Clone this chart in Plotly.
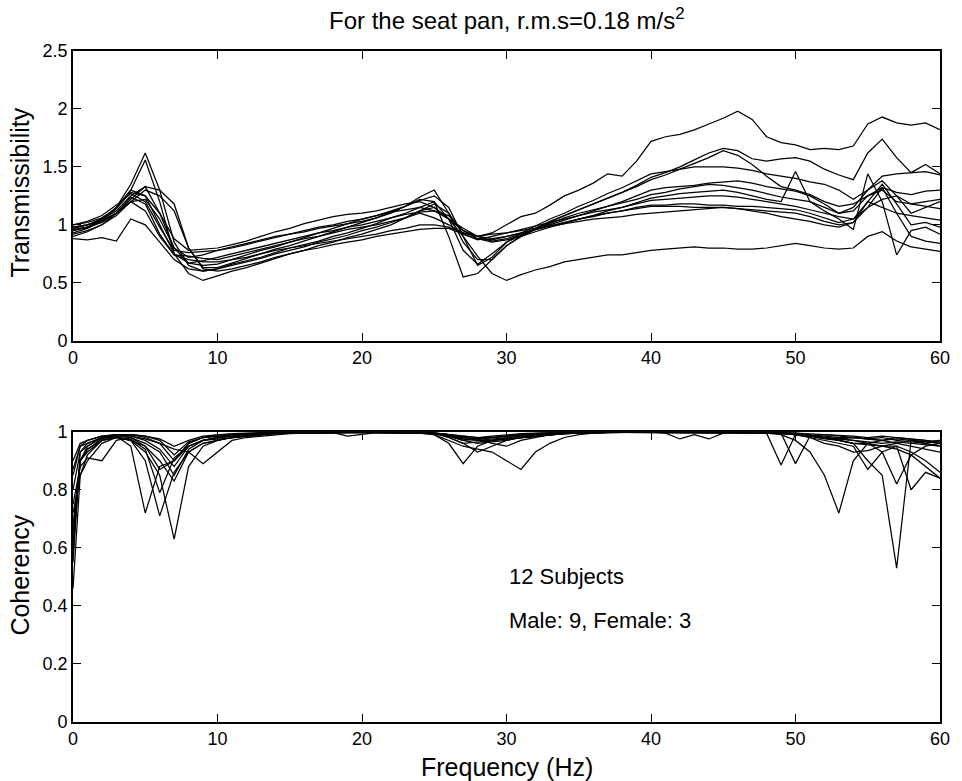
import plotly.graph_objects as go

freq = list(range(0, 61))
coh_freq = [0, 0.5] + list(range(1, 61))

# Transmissibility (seat pan), 12 subjects
T1 = [0.97, 1.0, 1.05, 1.15, 1.35, 1.62, 1.3, 0.85, 0.65, 0.6,
      0.62, 0.66, 0.69, 0.72, 0.76, 0.8, 0.83, 0.86, 0.9, 0.93,
      0.97, 1.01, 1.06, 1.1, 1.15, 1.2, 1.05, 0.78, 0.66, 0.75,
      0.85, 0.91, 0.97, 1.03, 1.08, 1.13, 1.18, 1.23, 1.28, 1.34,
      1.41, 1.45, 1.5, 1.56, 1.62, 1.66, 1.64, 1.57, 1.55, 1.57,
      1.58, 1.55, 1.48, 1.43, 1.39, 1.62, 1.74, 1.58, 1.45, 1.52,
      1.44]
T2 = [1.0, 1.02, 1.06, 1.14, 1.28, 1.25, 1.1, 0.88, 0.78, 0.79,
      0.8, 0.83, 0.86, 0.9, 0.94, 0.97, 1.01, 1.04, 1.07, 1.09,
      1.1, 1.12, 1.15, 1.18, 1.2, 1.15, 1.05, 0.95, 0.9, 0.93,
      1.0, 1.07, 1.1, 1.17, 1.25, 1.3, 1.36, 1.44, 1.42, 1.55,
      1.72, 1.76, 1.78, 1.82, 1.87, 1.92, 1.98, 1.91, 1.76, 1.71,
      1.69, 1.65, 1.66, 1.65, 1.68, 1.87, 1.93, 1.88, 1.86, 1.88,
      1.82]
T3 = [0.95, 0.98, 1.04, 1.14, 1.3, 1.56, 1.2, 0.75, 0.58, 0.52,
      0.56, 0.6, 0.63, 0.67, 0.71, 0.75, 0.78, 0.82, 0.85, 0.89,
      0.92, 0.96, 1.0, 1.06, 1.12, 1.18, 1.1, 0.85, 0.7, 0.7,
      0.82, 0.9, 0.96, 1.02, 1.08, 1.13, 1.18, 1.23, 1.28, 1.33,
      1.39, 1.43, 1.48, 1.53, 1.58, 1.64, 1.6, 1.52, 1.42, 1.33,
      1.3, 1.26, 1.2, 1.16, 1.18, 1.25, 1.32, 1.28, 1.26, 1.29,
      1.3]
T4 = [0.98, 1.0, 1.05, 1.12, 1.25, 1.33, 1.3, 1.18, 0.8, 0.63,
      0.63, 0.67, 0.71, 0.75, 0.79, 0.82, 0.86, 0.9, 0.94, 0.98,
      1.02, 1.06, 1.11, 1.16, 1.21, 1.25, 1.15, 0.9, 0.65, 0.72,
      0.85, 0.93, 0.99, 1.05, 1.1, 1.16, 1.21, 1.27, 1.32, 1.38,
      1.44, 1.46, 1.48, 1.5, 1.5, 1.5, 1.49, 1.47, 1.44, 1.42,
      1.4, 1.37, 1.35, 1.3, 1.22, 1.3, 1.42, 1.44, 1.45, 1.46,
      1.43]
T5 = [0.93, 0.97, 1.03, 1.1, 1.22, 1.33, 1.1, 0.8, 0.72, 0.74,
      0.78, 0.8, 0.83, 0.86, 0.89, 0.92, 0.95, 0.98, 1.0, 1.03,
      1.05, 1.08, 1.11, 1.13, 1.15, 1.12, 1.05, 0.97, 0.9, 0.86,
      0.88, 0.92, 0.96, 1.0, 1.04, 1.08, 1.12, 1.16, 1.2, 1.25,
      1.3, 1.32, 1.33, 1.34, 1.36, 1.37, 1.38, 1.36, 1.33, 1.31,
      1.29, 1.25, 1.18, 1.1, 1.12, 1.25, 1.3, 1.2, 1.18, 1.2,
      1.22]
T6 = [0.96, 0.98, 1.04, 1.15, 1.3, 1.25, 1.0, 0.75, 0.67, 0.69,
      0.72, 0.75, 0.78, 0.81, 0.84, 0.87, 0.9, 0.93, 0.95, 0.98,
      1.0, 1.03, 1.06, 1.09, 1.11, 1.12, 1.08, 0.95, 0.88, 0.85,
      0.87, 0.9, 0.94, 0.98, 1.01, 1.05, 1.08, 1.12, 1.15, 1.19,
      1.23, 1.25, 1.27, 1.28, 1.29, 1.3, 1.28, 1.25, 1.22, 1.2,
      1.46, 1.2, 1.12, 1.05, 0.96, 1.44, 1.2, 0.74, 0.95, 0.98,
      0.92]
T7 = [1.0, 1.03, 1.08, 1.17, 1.27, 1.2, 0.98, 0.78, 0.76, 0.77,
      0.78, 0.81, 0.84, 0.87, 0.9, 0.92, 0.94, 0.97, 0.99, 1.01,
      1.03, 1.06, 1.1, 1.16, 1.24, 1.3, 1.1, 0.92, 0.87, 0.9,
      0.93, 0.96, 0.99, 1.02, 1.05, 1.08, 1.11, 1.13, 1.15, 1.18,
      1.21, 1.22, 1.23, 1.24, 1.25, 1.25, 1.24, 1.22, 1.2, 1.18,
      1.16, 1.13, 1.1, 1.07, 1.05, 1.2, 1.35, 1.18, 1.0, 1.02,
      0.98]
T8 = [0.92, 0.95, 1.0, 1.1, 1.24, 1.18, 0.92, 0.74, 0.7, 0.68,
      0.68, 0.7, 0.72, 0.75, 0.78, 0.8, 0.82, 0.84, 0.86, 0.88,
      0.9, 0.92, 0.95, 0.97, 1.0, 1.0, 0.98, 0.93, 0.9, 0.88,
      0.9, 0.93, 0.96, 0.99, 1.02, 1.05, 1.08, 1.1, 1.12, 1.15,
      1.17, 1.17, 1.18, 1.18, 1.17, 1.17, 1.16, 1.16, 1.15, 1.14,
      1.13, 1.1, 1.06, 1.02, 1.05, 1.15, 1.22, 1.25, 1.18, 1.16,
      1.14]
T9 = [0.95, 0.98, 1.02, 1.1, 1.2, 1.3, 1.25, 1.12, 0.8, 0.62,
      0.6, 0.62, 0.65, 0.68, 0.72, 0.75, 0.78, 0.8, 0.83, 0.85,
      0.87, 0.9, 0.92, 0.94, 0.96, 0.97, 0.97, 0.92, 0.88, 0.87,
      0.9, 0.93, 0.96, 0.99, 1.02, 1.05, 1.07, 1.1, 1.12, 1.14,
      1.16, 1.16, 1.16, 1.15, 1.15, 1.15, 1.14, 1.13, 1.12, 1.11,
      1.1, 1.07, 1.03, 1.0, 1.02, 1.2, 1.15, 1.1, 1.08, 1.06,
      1.04]
T10 = [0.9, 0.94, 1.0, 1.08, 1.2, 1.12, 0.9, 0.74, 0.73, 0.71,
       0.7, 0.73, 0.76, 0.79, 0.82, 0.85, 0.88, 0.9, 0.93, 0.96,
       0.98, 1.0, 1.03, 1.06, 1.1, 1.06, 1.0, 0.93, 0.9, 0.92,
       0.93, 0.95, 0.97, 0.99, 1.01, 1.03, 1.05, 1.06, 1.07, 1.09,
       1.1, 1.11, 1.12, 1.13, 1.14, 1.15, 1.14, 1.12, 1.1, 1.07,
       1.05, 1.03, 1.0, 0.98, 1.02, 1.15, 1.32, 1.1, 0.9, 0.86,
       0.84]
T11 = [0.98, 1.0, 1.04, 1.1, 1.2, 1.22, 1.05, 0.8, 0.67, 0.65,
       0.66, 0.7, 0.74, 0.78, 0.81, 0.85, 0.89, 0.93, 0.97, 1.01,
       1.05, 1.08, 1.12, 1.16, 1.22, 1.2, 0.9, 0.55, 0.58, 0.7,
       0.82, 0.9, 0.96, 1.01, 1.06, 1.1, 1.13, 1.16, 1.19, 1.22,
       1.26, 1.28, 1.31, 1.33, 1.35, 1.34, 1.32, 1.3, 1.27, 1.24,
       1.22, 1.2, 1.15, 1.1, 1.15, 1.3, 1.38, 1.25, 1.1, 1.15,
       1.2]
T12 = [0.88, 0.87, 0.89, 0.86, 1.05, 1.0, 0.85, 0.7, 0.62, 0.6,
       0.62, 0.65, 0.68, 0.71, 0.75, 0.78, 0.81, 0.85, 0.88, 0.91,
       0.95, 0.98, 1.02, 1.06, 1.12, 1.15, 1.05, 0.9, 0.73, 0.58,
       0.52, 0.57, 0.61, 0.64, 0.68, 0.7, 0.72, 0.74, 0.74, 0.76,
       0.78, 0.79, 0.8, 0.81, 0.8, 0.8, 0.79, 0.79, 0.8, 0.82,
       0.84, 0.82, 0.8, 0.79, 0.8, 0.9, 0.94, 0.86, 0.81, 0.79,
       0.77]

# Coherency, 12 subjects (values at 0, 0.5, 1, 2, ..., 60 Hz)
C1 = [0.46, 0.85, 0.92, 0.97, 0.98, 0.97, 0.93, 0.85, 0.63, 0.88, 0.95,
      0.97, 0.98, 0.99, 0.99, 0.995, 0.995, 0.995, 0.997, 0.998, 0.998,
      0.998, 0.998, 0.998, 0.997, 0.996, 0.995, 0.985, 0.97, 0.975, 0.98,
      0.985, 0.99, 0.99, 0.993, 0.995, 0.996, 0.997, 0.998, 0.998, 0.998,
      0.998, 0.998, 0.998, 0.998, 0.998, 0.998, 0.998, 0.998, 0.997, 0.995,
      0.99, 0.985, 0.98, 0.975, 0.98, 0.975, 0.97, 0.98, 0.975, 0.97,
      0.96]
C2 = [0.58, 0.9, 0.95, 0.98, 0.985, 0.95, 0.72, 0.88, 0.9, 0.95, 0.97,
      0.98, 0.985, 0.99, 0.993, 0.995, 0.996, 0.997, 0.998, 0.998, 0.998,
      0.999, 0.999, 0.999, 0.998, 0.997, 0.995, 0.98, 0.96, 0.965, 0.97,
      0.975, 0.98, 0.985, 0.99, 0.993, 0.995, 0.997, 0.998, 0.998, 0.999,
      0.999, 0.999, 0.999, 0.999, 0.999, 0.999, 0.998, 0.998, 0.997, 0.995,
      0.99, 0.985, 0.99, 0.985, 0.98, 0.975, 0.98, 0.97, 0.965, 0.96,
      0.95]
C3 = [0.65, 0.9, 0.94, 0.97, 0.98, 0.97, 0.9, 0.71, 0.86, 0.93, 0.96,
      0.97, 0.98, 0.985, 0.99, 0.993, 0.995, 0.996, 0.997, 0.998, 0.998,
      0.998, 0.998, 0.998, 0.997, 0.996, 0.994, 0.985, 0.97, 0.96, 0.965,
      0.97, 0.98, 0.985, 0.99, 0.993, 0.995, 0.997, 0.998, 0.998, 0.998,
      0.998, 0.998, 0.998, 0.998, 0.998, 0.998, 0.998, 0.997, 0.996, 0.994,
      0.99, 0.985, 0.98, 0.975, 0.97, 0.965, 0.96, 0.965, 0.96, 0.955,
      0.95]
C4 = [0.72, 0.85, 0.9, 0.96, 0.98, 0.97, 0.95, 0.9, 0.83, 0.93, 0.89,
      0.93, 0.97, 0.98, 0.985, 0.99, 0.993, 0.995, 0.996, 0.997, 0.997,
      0.997, 0.997, 0.997, 0.996, 0.995, 0.99, 0.97, 0.95, 0.94, 0.93,
      0.9, 0.87, 0.93, 0.96, 0.98, 0.99, 0.995, 0.997, 0.998, 0.998,
      0.998, 0.998, 0.998, 0.998, 0.998, 0.998, 0.997, 0.996, 0.995, 0.99,
      0.97, 0.93, 0.85, 0.72, 0.9, 0.96, 0.97, 0.96, 0.95, 0.94,
      0.93]
C5 = [0.8, 0.93, 0.95, 0.98, 0.985, 0.98, 0.96, 0.93, 0.85, 0.94, 0.97,
      0.98, 0.985, 0.99, 0.993, 0.995, 0.996, 0.997, 0.998, 0.998, 0.998,
      0.998, 0.998, 0.998, 0.997, 0.996, 0.994, 0.985, 0.975, 0.97, 0.975,
      0.98, 0.985, 0.99, 0.993, 0.995, 0.997, 0.998, 0.998, 0.999, 0.999,
      0.999, 0.999, 0.999, 0.999, 0.999, 0.999, 0.998, 0.998, 0.997, 0.995,
      0.99, 0.985, 0.98, 0.97, 0.96, 0.9, 0.85, 0.53, 0.97, 0.96,
      0.97]
C6 = [0.85, 0.95, 0.96, 0.98, 0.99, 0.985, 0.97, 0.94, 0.88, 0.95, 0.97,
      0.975, 0.98, 0.985, 0.99, 0.993, 0.995, 0.996, 0.997, 0.997, 0.985,
      0.99, 0.997, 0.998, 0.998, 0.997, 0.995, 0.99, 0.98, 0.975, 0.98,
      0.985, 0.99, 0.993, 0.995, 0.997, 0.998, 0.998, 0.998, 0.999, 0.999,
      0.999, 0.999, 0.999, 0.999, 0.999, 0.999, 0.999, 0.998, 0.995, 0.885,
      0.99, 0.985, 0.98, 0.97, 0.96, 0.96, 0.93, 0.82, 0.92, 0.95,
      0.96]
C7 = [0.87, 0.95, 0.97, 0.985, 0.99, 0.99, 0.98, 0.96, 0.9, 0.96, 0.98,
      0.985, 0.99, 0.993, 0.995, 0.996, 0.997, 0.998, 0.998, 0.998, 0.998,
      0.998, 0.998, 0.998, 0.997, 0.995, 0.99, 0.96, 0.89, 0.95, 0.97,
      0.98, 0.985, 0.99, 0.993, 0.995, 0.997, 0.998, 0.998, 0.999, 0.999,
      0.999, 0.999, 0.999, 0.999, 0.999, 0.999, 0.999, 0.998, 0.997, 0.995,
      0.89, 0.985, 0.98, 0.975, 0.97, 0.96, 0.95, 0.95, 0.8, 0.86,
      0.84]
C8 = [0.75, 0.88, 0.91, 0.9, 0.97, 0.98, 0.95, 0.87, 0.9, 0.96, 0.98,
      0.99, 0.99, 0.993, 0.995, 0.996, 0.997, 0.998, 0.998, 0.998, 0.998,
      0.998, 0.998, 0.998, 0.997, 0.996, 0.994, 0.985, 0.975, 0.97, 0.97,
      0.975, 0.98, 0.985, 0.99, 0.993, 0.995, 0.997, 0.998, 0.998, 0.998,
      0.998, 0.998, 0.998, 0.998, 0.998, 0.998, 0.998, 0.997, 0.996, 0.994,
      0.99, 0.98, 0.97, 0.96, 0.95, 0.87, 0.93, 0.95, 0.93, 0.9,
      0.86]
C9 = [0.68, 0.9, 0.93, 0.97, 0.98, 0.975, 0.94, 0.79, 0.91, 0.95, 0.97,
      0.98, 0.985, 0.99, 0.993, 0.995, 0.996, 0.997, 0.998, 0.998, 0.998,
      0.998, 0.998, 0.998, 0.997, 0.996, 0.995, 0.99, 0.98, 0.975, 0.96,
      0.95, 0.97, 0.98, 0.99, 0.993, 0.995, 0.997, 0.998, 0.998, 0.998,
      0.998, 0.998, 0.998, 0.998, 0.998, 0.998, 0.998, 0.997, 0.996, 0.994,
      0.99, 0.985, 0.975, 0.97, 0.96, 0.955, 0.95, 0.94, 0.92, 0.88,
      0.84]
C10 = [0.9, 0.96, 0.97, 0.985, 0.99, 0.99, 0.985, 0.97, 0.92, 0.965, 0.98,
       0.985, 0.99, 0.993, 0.995, 0.997, 0.998, 0.998, 0.999, 0.999, 0.999,
       0.999, 0.999, 0.999, 0.998, 0.997, 0.995, 0.99, 0.985, 0.98, 0.985,
       0.99, 0.993, 0.995, 0.997, 0.998, 0.999, 0.999, 0.999, 0.999, 0.999,
       0.999, 0.995, 0.975, 0.99, 0.975, 0.995, 0.999, 0.999, 0.998, 0.997,
       0.995, 0.99, 0.985, 0.98, 0.98, 0.975, 0.97, 0.975, 0.97, 0.965,
       0.96]
C11 = [0.62, 0.9, 0.94, 0.975, 0.985, 0.985, 0.975, 0.96, 0.94, 0.93, 0.96,
       0.97, 0.98, 0.985, 0.99, 0.993, 0.995, 0.996, 0.997, 0.997, 0.998,
       0.998, 0.998, 0.998, 0.997, 0.996, 0.994, 0.98, 0.96, 0.93, 0.95,
       0.97, 0.98, 0.985, 0.99, 0.993, 0.995, 0.997, 0.998, 0.998, 0.998,
       0.998, 0.998, 0.998, 0.998, 0.998, 0.998, 0.998, 0.997, 0.996, 0.994,
       0.99, 0.98, 0.96, 0.95, 0.93, 0.935, 0.95, 0.96, 0.97, 0.965,
       0.97]
C12 = [0.55, 0.93, 0.96, 0.98, 0.99, 0.99, 0.985, 0.975, 0.95, 0.97, 0.985,
       0.99, 0.993, 0.995, 0.997, 0.998, 0.998, 0.999, 0.999, 0.999, 0.999,
       0.999, 0.999, 0.999, 0.998, 0.997, 0.996, 0.99, 0.985, 0.98, 0.98,
       0.985, 0.99, 0.993, 0.995, 0.997, 0.998, 0.999, 0.999, 0.999, 0.999,
       0.999, 0.999, 0.999, 0.999, 0.999, 0.999, 0.999, 0.999, 0.998, 0.997,
       0.995, 0.993, 0.99, 0.988, 0.985, 0.98, 0.985, 0.98, 0.975, 0.97,
       0.965]

trans = [T1, T2, T3, T4, T5, T6, T7, T8, T9, T10, T11, T12]
coh = [C1, C2, C3, C4, C5, C6, C7, C8, C9, C10, C11, C12]

x_ticks = [0, 10, 20, 30, 40, 50, 60]
y1_ticks = [0, 0.5, 1, 1.5, 2, 2.5]
y2_ticks = [0, 0.2, 0.4, 0.6, 0.8, 1]

title_text = "For the seat pan, r.m.s=0.18 m/s<sup>2</sup>"
note1 = "12 Subjects"
note2 = "Male: 9, Female: 3"

FONT = "Liberation Sans, Arial, Helvetica, sans-serif"

fig = go.Figure()
for s in trans:
    assert len(s) == len(freq)
    fig.add_trace(go.Scatter(x=freq, y=s, mode="lines", xaxis="x", yaxis="y",
                             line=dict(color="black", width=1.25), showlegend=False,
                             hoverinfo="skip"))
for s in coh:
    assert len(s) == len(coh_freq)
    fig.add_trace(go.Scatter(x=coh_freq, y=s, mode="lines", xaxis="x2", yaxis="y2",
                             line=dict(color="black", width=1.25), showlegend=False,
                             hoverinfo="skip"))

axis_common = dict(showline=True, linecolor="black", linewidth=1.6, mirror="ticks",
                   ticks="inside", ticklen=8, tickwidth=1.3, tickcolor="black",
                   showgrid=False, zeroline=False,
                   tickfont=dict(family=FONT, size=18, color="black"))

H_TOP = 51
H_BOT = 59
PLOT_H = 781 - H_TOP - H_BOT
def py(px):
    return (781 - H_BOT - px) / PLOT_H

fig.update_layout(
    width=962, height=781,
    margin=dict(l=73, r=12, t=H_TOP, b=H_BOT),
    paper_bgcolor="white", plot_bgcolor="white",
    font=dict(family=FONT, color="black"),
    xaxis=dict(domain=[0, 1], range=[0, 60], tickvals=x_ticks, anchor="y", **axis_common),
    yaxis=dict(domain=[py(340.7), 1], range=[0, 2.5], tickvals=y1_ticks, anchor="x", **axis_common),
    xaxis2=dict(domain=[0, 1], range=[0, 60], tickvals=x_ticks, anchor="y2", **axis_common),
    yaxis2=dict(domain=[0, py(431.7)], range=[0, 1], tickvals=y2_ticks, anchor="x2", **axis_common),
    annotations=[
        dict(text=title_text, x=0.5, y=py(19), xref="paper", yref="paper",
             showarrow=False, xanchor="center", yanchor="middle",
             font=dict(family=FONT, size=24, color="black")),
        dict(text="Transmissibility", x=(19 - 73) / 877, y=py(193), xref="paper", yref="paper",
             showarrow=False, textangle=-90, xanchor="center", yanchor="middle",
             font=dict(family=FONT, size=25, color="black")),
        dict(text="Coherency", x=(19 - 73) / 877, y=py(575), xref="paper", yref="paper",
             showarrow=False, textangle=-90, xanchor="center", yanchor="middle",
             font=dict(family=FONT, size=25, color="black")),
        dict(text="Frequency (Hz)", x=0.5, y=py(767), xref="paper", yref="paper",
             showarrow=False, xanchor="center", yanchor="middle",
             font=dict(family=FONT, size=25, color="black")),
        dict(text=note1, x=30, y=0.5, xref="x2", yref="y2", showarrow=False,
             xanchor="left", yanchor="middle", font=dict(family=FONT, size=22, color="black")),
        dict(text=note2, x=30, y=0.35, xref="x2", yref="y2", showarrow=False,
             xanchor="left", yanchor="middle", font=dict(family=FONT, size=22, color="black")),
    ],
)

fig.write_html("out.html")
